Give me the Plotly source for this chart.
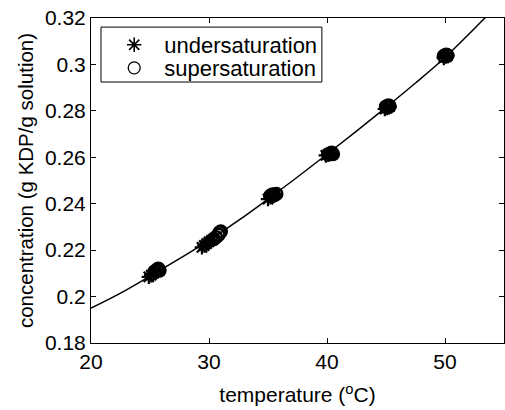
import plotly.graph_objects as go

# Fitted solubility curve
curve_t = [20, 22.5, 25, 27.5, 30, 32.5, 35, 37.5, 40, 42.5, 45, 47.5, 50, 52.5, 55]
curve_c = [0.195, 0.2015, 0.2088, 0.2163, 0.2242, 0.2328, 0.2420, 0.2515, 0.2613, 0.2713, 0.2815, 0.2920, 0.3030, 0.3155, 0.3285]

# Undersaturation measurements
under_t = [24.9, 25.1, 25.3, 25.5, 29.4, 29.6, 29.8, 30.0, 30.2, 35.0, 35.2, 35.4, 35.6, 39.9, 40.1, 40.3, 44.9, 45.1, 45.3, 49.9, 50.1, 50.2]
under_c = [0.2085, 0.2092, 0.2100, 0.2108, 0.2212, 0.2220, 0.2228, 0.2236, 0.2242, 0.2420, 0.2428, 0.2434, 0.2440, 0.2608, 0.2612, 0.2617, 0.2808, 0.2812, 0.2818, 0.3028, 0.3034, 0.3038]

# Supersaturation measurements
super_t = [25.4, 25.6, 25.7, 25.8, 30.4, 30.6, 30.8, 30.9, 31.0, 35.2, 35.4, 35.5, 35.7, 40.1, 40.3, 40.4, 40.5, 45.0, 45.2, 45.3, 49.9, 50.1, 50.2]
super_c = [0.2108, 0.2115, 0.2120, 0.2112, 0.2248, 0.2256, 0.2266, 0.2276, 0.2280, 0.2434, 0.2440, 0.2436, 0.2442, 0.2612, 0.2616, 0.2620, 0.2614, 0.2818, 0.2823, 0.2820, 0.3036, 0.3042, 0.3038]

x_ticks = [20, 30, 40, 50]
x_ticklabels = ["20", "30", "40", "50"]
y_ticks = [0.18, 0.20, 0.22, 0.24, 0.26, 0.28, 0.30, 0.32]
y_ticklabels = ["0.18", "0.2", "0.22", "0.24", "0.26", "0.28", "0.3", "0.32"]

font_family = "Liberation Sans, Arial, Helvetica, sans-serif"

fig = go.Figure()
fig.add_trace(go.Scatter(
    x=curve_t, y=curve_c, mode="lines", line=dict(color="black", width=1.5, shape="spline"),
    showlegend=False, hoverinfo="skip"))
fig.add_trace(go.Scatter(
    x=under_t, y=under_c, mode="markers", name="undersaturation", showlegend=False,
    marker=dict(symbol="asterisk-open", size=12, color="black", line=dict(color="black", width=2.2))))
fig.add_trace(go.Scatter(
    x=super_t, y=super_c, mode="markers", name="supersaturation", showlegend=False,
    marker=dict(symbol="circle-open", size=12, color="black", line=dict(color="black", width=2.5))))
# legend entries (thin markers, like the reference key)
fig.add_trace(go.Scatter(
    x=[None], y=[None], mode="markers", name="undersaturation", legend="legend",
    marker=dict(symbol="asterisk-open", size=12, color="black", line=dict(color="black", width=1.6))))
fig.add_trace(go.Scatter(
    x=[None], y=[None], mode="markers", name="supersaturation", legend="legend2",
    marker=dict(symbol="circle-open", size=12, color="black", line=dict(color="black", width=1.3))))

axis_common = dict(
    showgrid=False, zeroline=False, showline=True, linecolor="black", linewidth=1,
    mirror="ticks", ticks="inside", ticklen=5, tickcolor="black", automargin=False,
    tickfont=dict(size=21, color="black", family=font_family),
)

legend_common = dict(xanchor="left", yanchor="middle", borderwidth=0,
                     bgcolor="rgba(0,0,0,0)", font=dict(size=22, color="black"),
                     itemwidth=50)

fig.update_layout(
    width=505, height=410,
    margin=dict(l=91, r=1, t=18, b=67),
    paper_bgcolor="white", plot_bgcolor="white",
    font=dict(family=font_family, color="black", size=21),
    xaxis=dict(range=[20, 55], tickvals=x_ticks, ticktext=x_ticklabels,
               title=dict(text="temperature (<sup>o</sup>C)", font=dict(size=21), standoff=15),
               **axis_common),
    yaxis=dict(range=[0.18, 0.32], tickvals=y_ticks, ticktext=y_ticklabels,
               title=dict(text="concentration (g KDP/g solution)", font=dict(size=20.5), standoff=5),
               **axis_common),
    legend=dict(x=0.032, y=0.917, **legend_common),
    legend2=dict(x=0.032, y=0.846, **legend_common),
    shapes=[dict(type="rect", xref="paper", yref="paper", x0=0.0242, x1=0.559,
                 y0=0.803, y1=0.972, line=dict(color="black", width=1),
                 fillcolor="white", layer="below")],
)

fig.write_html("out.html", config={"displayModeBar": False},
               post_script="document.body.style.margin='0';document.body.style.overflow='hidden';")
